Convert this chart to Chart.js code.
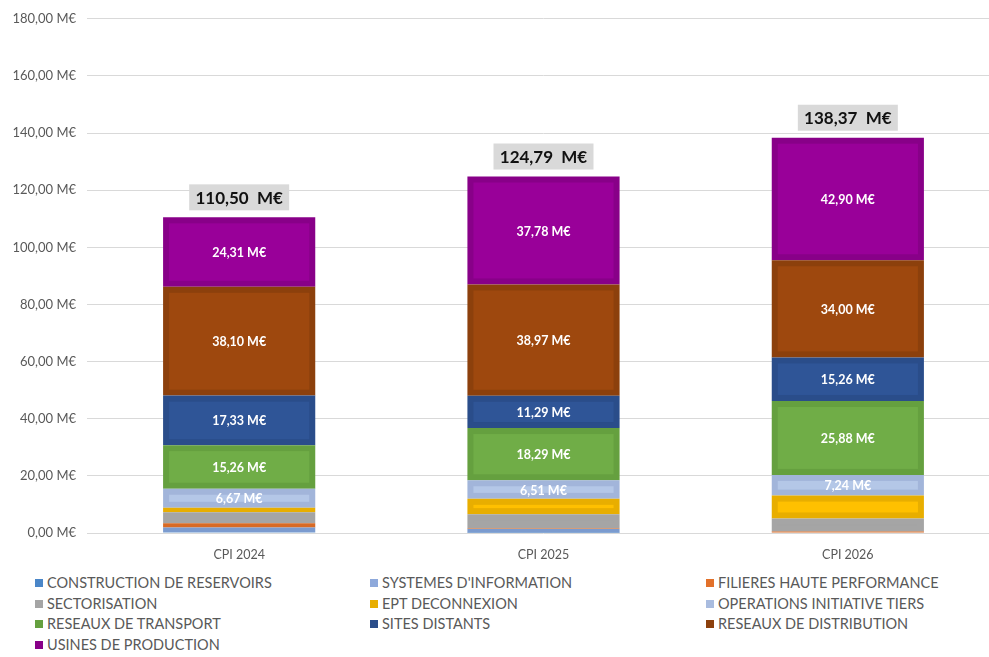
<!DOCTYPE html>
<html lang="fr">
<head>
<meta charset="utf-8">
<title>CPI 2024 - 2026</title>
<script src="https://cdn.jsdelivr.net/npm/chart.js@4.4.0/dist/chart.umd.min.js"></script>
<style>
  html, body { margin: 0; padding: 0; background: #fff; overflow: hidden; }
  #wrap { position: relative; width: 1000px; height: 565px; }
  #legend {
    position: absolute; left: 0; top: 573px; width: 989px;
    font-family: "Century Gothic", "Lato", sans-serif; font-size: 14.5px; color: #595959;
  }
  .item { position: absolute; white-space: nowrap; line-height: 20px; }
  .item span.box { display: inline-block; width: 8px; height: 8px; margin-right: 4px; vertical-align: 1px; }
</style>
</head>
<body>
<div id="wrap"><canvas id="chart"></canvas></div>
<div id="legend"></div>
<script>
const years = ['CPI 2024', 'CPI 2025', 'CPI 2026']

const seriesNames = [
  'CONSTRUCTION DE RESERVOIRS',
  "SYSTEMES D'INFORMATION",
  'FILIERES HAUTE PERFORMANCE',
  'SECTORISATION',
  'EPT DECONNEXION',
  'OPERATIONS INITIATIVE TIERS',
  'RESEAUX DE TRANSPORT',
  'SITES DISTANTS',
  'RESEAUX DE DISTRIBUTION',
  'USINES DE PRODUCTION'
]

// values in M€, one array per programme (bottom of the stack first)
const construction = [0.30, 0.10, 0.00]
const systemes = [1.60, 1.30, 0.20]
const filieres = [1.50, 0.20, 0.30]
const sectorisation = [3.90, 5.00, 4.60]
const ept = [1.53, 5.35, 7.99]
const operations = [6.67, 6.51, 7.24]
const transport = [15.26, 18.29, 25.88]
const sites = [17.33, 11.29, 15.26]
const distribution = [38.10, 38.97, 34.00]
const usines = [24.31, 37.78, 42.90]

const yTicks = [0, 20, 40, 60, 80, 100, 120, 140, 160, 180]

// outer (edge) colour and lighter inner panel colour of each segment
const edges = ['#4a86c8', '#7b9bcf', '#d86a25', '#a5a5a5', '#e8ae00', '#a2b5da', '#65a03f', '#2a4d8a', '#8c400c', '#880088']
const panels = ['#4a86c8', '#7f9fd2', '#e2712a', '#a5a5a5', '#ffc000', '#b4c7e7', '#70ad47', '#2f5597', '#9e480e', '#990099']
const legendColors = ['#4a86c8', '#8ea9db', '#e2712a', '#a5a5a5', '#e8ae00', '#a9bcdf', '#65a03f', '#2a4d8a', '#8c400c', '#880088']

// only the bigger programmes carry a value label
const labelled = [false, false, false, false, false, true, true, true, true, true]

const values = [construction, systemes, filieres, sectorisation, ept, operations, transport, sites, distribution, usines]

const fmt = (v) => v.toFixed(2).replace('.', ',') + ' M€'
const FONT = '"Century Gothic", "Lato", sans-serif'
const INSET = 6

const datasets = seriesNames.map((name, i) => ({
  label: name,
  data: values[i],
  backgroundColor: edges[i],
  borderWidth: 0,
  barPercentage: 1,
  categoryPercentage: 0.5
}))

// bevel panel inside each segment, then value labels and total box
const barLabels = {
  id: 'barLabels',
  afterDatasetsDraw(chart) {
    const ctx = chart.ctx
    ctx.save()
    chart.data.datasets.forEach((ds, i) => {
      chart.getDatasetMeta(i).data.forEach((bar) => {
        const { x, y, base, width } = bar.getProps(['x', 'y', 'base', 'width'], true)
        const top = Math.min(y, base)
        const h = Math.abs(base - y)
        if (h <= INSET * 2) return
        ctx.fillStyle = panels[i]
        ctx.fillRect(x - width / 2 + INSET, top + INSET, width - INSET * 2, h - INSET * 2)
      })
    })

    ctx.textAlign = 'center'
    ctx.textBaseline = 'middle'
    chart.data.datasets.forEach((ds, i) => {
      if (!labelled[i]) return
      chart.getDatasetMeta(i).data.forEach((bar, j) => {
        const y = (bar.y + bar.base) / 2
        ctx.font = 'bold 12.5px ' + FONT
        ctx.fillStyle = '#ffffff'
        ctx.fillText(fmt(ds.data[j]), bar.x, y + 1)
      })
    })

    const last = chart.getDatasetMeta(chart.data.datasets.length - 1)
    years.forEach((_, j) => {
      const total = values.reduce((s, arr) => s + arr[j], 0)
      const bar = last.data[j]
      const top = chart.scales.y.getPixelForValue(total)
      const w = 100, h = 26
      ctx.fillStyle = '#d9d9d9'
      ctx.fillRect(bar.x - w / 2, top - 7 - h, w, h)
      ctx.fillStyle = '#111111'
      ctx.font = 'bold 17px ' + FONT
      ctx.fillText(fmt(total).replace(' M', '  M'), bar.x, top - 7 - h / 2 + 1)
    })
    ctx.restore()
  }
}

const chart = new Chart(document.getElementById('chart'), {
  type: 'bar',
  data: { labels: years, datasets },
  options: {
    responsive: true,
    maintainAspectRatio: false,
    animation: false,
    layout: { padding: { top: 9, right: 0, left: 0, bottom: 0 } },
    plugins: {
      legend: { display: false },
      tooltip: { enabled: false }
    },
    scales: {
      x: {
        stacked: true,
        grid: { display: false },
        border: { display: false },
        ticks: { color: '#595959', font: { family: FONT, size: 12.5 }, padding: 6 },
        afterFit: (scale) => { scale.height = 32 }
      },
      y: {
        stacked: true,
        min: 0,
        max: 180,
        afterBuildTicks: (scale) => { scale.ticks = yTicks.map(v => ({ value: v })) },
        grid: { color: '#d9d9d9', lineWidth: 1, drawTicks: false },
        border: { display: false },
        ticks: {
          color: '#595959',
          font: { family: FONT, size: 13 },
          padding: 11,
          callback: (v) => fmt(v)
        },
        afterFit: (scale) => { scale.width = 87 }
      }
    }
  },
  plugins: [barLabels]
})

// three-column legend under the chart
const legend = document.getElementById('legend')
const cols = [35, 370, 706]
seriesNames.forEach((name, i) => {
  const el = document.createElement('div')
  el.className = 'item'
  el.style.left = cols[i % 3] + 'px'
  el.style.top = Math.floor(i / 3) * 20.7 + 'px'
  el.innerHTML = '<span class="box" style="background:' + legendColors[i] + '"></span>'
  el.appendChild(document.createTextNode(name))
  legend.appendChild(el)
})
</script>
</body>
</html>
